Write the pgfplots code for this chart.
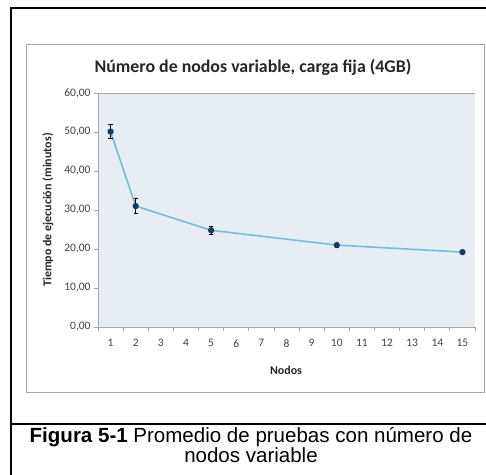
\documentclass[border=0pt]{standalone}
\usepackage{pgfplots}
\pgfplotsset{compat=1.18}
\usepackage{fontspec}
\setmainfont{Carlito}
\newfontfamily\arial{Liberation Sans}
\definecolor{plotbg}{HTML}{E6EEF3}
\definecolor{lineblue}{HTML}{76BCD8}
\definecolor{navy}{HTML}{1B3A60}
\definecolor{axgray}{HTML}{A6A6A6}
\definecolor{txt}{HTML}{404040}
\begin{document}
\begin{tikzpicture}[x=1bp,y=1bp]
\useasboundingbox (0,0) rectangle (486,475);
% outer frame
\draw[line width=2.5bp] (11,0) -- (11,467) -- (486,467);
\draw[line width=2bp] (11,51) -- (486,51);
% chart box
\draw[axgray, line width=0.8bp] (26,83) rectangle (484,431);
\begin{axis}[
  at={(98bp,148bp)}, anchor=south west,
  scale only axis, width=377bp, height=234bp,
  xmin=0.5, xmax=15.5, ymin=0, ymax=60,
  axis x line*=bottom, axis y line*=left,
  axis line style={axgray, line width=0.8bp, -},
  axis background/.style={fill=plotbg},
  xtick={0.5,1.5,...,15.5}, xticklabels={},
  extra x ticks={1,2,...,15},
  extra x tick labels={1,2,3,4,5,6,7,8,9,10,11,12,13,14,15},
  extra x tick style={major tick length=0pt},
  ytick={0,10,...,60},
  extra y ticks={60}, extra y tick labels={},
  extra y tick style={grid=major, grid style={axgray, line width=0.8bp}},
  tick align=outside, major tick length=4bp,
  tick style={axgray, line width=0.8bp},
  ticklabel style={font=\fontsize{11.5}{13}\selectfont, text=txt},
  xticklabel style={yshift=-9bp},
  /pgf/number format/.cd, fixed, fixed zerofill, precision=2, use comma, assume math mode=true,
]
\addplot[lineblue, line width=1.6bp, mark=*, mark size=2.3bp,
  mark options={fill=navy, draw=navy},
  error bars/.cd, y dir=both, y explicit,
  error bar style={black, line width=0.8bp},
  error mark options={black, line width=0.8bp, mark size=2.2bp, rotate=90}]
  coordinates {
  (1,50.1) +- (0,1.8)
  (2,31.0) +- (0,2.0)
  (5,24.8) +- (0,1.0)
  (10,21.0) +- (0,0.5)
  (15,19.2) +- (0,0.3)
  };
\end{axis}
\node[font=\fontsize{17.9}{21}\bfseries, text=black!85] at (253,408) {Número de nodos variable, carga fija (4GB)};
\node[font=\fontsize{12}{14}\bfseries, text=black!85, rotate=90] at (48,265) {Tiempo de ejecución (minutos)};
\node[font=\fontsize{12}{14}\bfseries, text=black!85] at (286,105) {Nodos};
\node[align=center, font=\arial\fontsize{20.6}{19}\selectfont] at (251,30) {\textbf{Figura 5-1} Promedio de pruebas con número de\\nodos variable};
\end{tikzpicture}
\end{document}
